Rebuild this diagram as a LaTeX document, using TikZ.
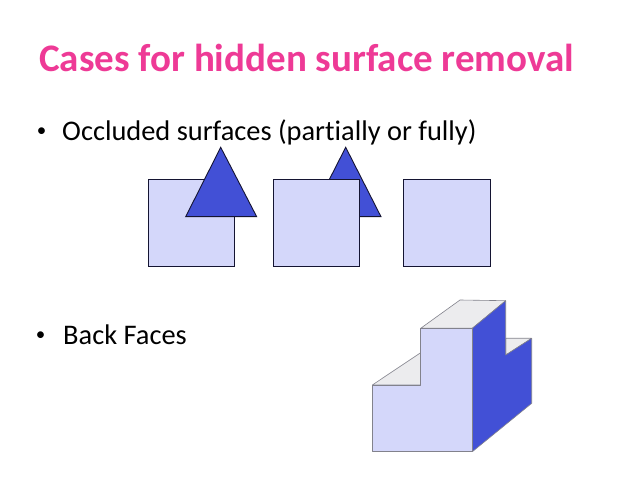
\documentclass[tikz,border=0pt]{standalone}
\usepackage{fontspec}
\setmainfont{Carlito}[Ligatures=NoCommon]
\definecolor{titlepink}{RGB}{238,58,150}
\definecolor{lightface}{RGB}{212,215,250}
\definecolor{darkface}{RGB}{66,80,214}
\definecolor{topface}{RGB}{236,236,238}
\definecolor{edgegray}{RGB}{130,130,140}
\definecolor{shapeedge}{RGB}{20,20,50}
\begin{document}
\begin{tikzpicture}[x=1pt,y=-1pt,
  sq/.style={fill=lightface,draw=shapeedge,line width=0.9pt},
  tri/.style={fill=darkface,draw=shapeedge,line width=0.9pt},
  cube/.style={draw=edgegray,line width=0.6pt,line join=round},
  txt/.style={inner sep=0pt,anchor=base west},
  bul/.style={inner sep=0pt,anchor=center,font=\fontsize{19}{22}\selectfont}]
\useasboundingbox (0,0) rectangle (638,478);
\fill[white] (0,0) rectangle (638,478);
% title
\node[txt,text=titlepink,font=\fontsize{39}{44}\selectfont\bfseries] (title) at (39,72) {Cases for hidden surface removal};
% bullets
\node[bul] (b1) at (41.5,132) {\textbullet};
\node[txt,font=\fontsize{28.4}{34}\selectfont] (t1) at (62,141) {Occluded surfaces (partially or fully)};
\node[bul] (b2) at (40.5,336) {\textbullet};
\node[txt,font=\fontsize{28.4}{34}\selectfont] (t2) at (63,345) {Back Faces};
% case 1: triangle in front of square
\path[sq] (148.3,179.3) rectangle (234.3,266);
\path[tri] (220.7,147.3) -- (256.7,216.7) -- (185.7,216.7) -- cycle;
% case 2: triangle behind square
\path[tri] (345.7,147.3) -- (381,216.7) -- (310.4,216.7) -- cycle;
\path[sq] (273.3,179.3) rectangle (359.3,266);
% case 3: fully hidden
\path[sq] (403.3,179.3) rectangle (490,266);
% back faces: stepped block
\path[cube,fill=topface] (372.3,385) -- (420.7,385) -- (420.7,352.7) -- cycle;
\path[cube,fill=topface] (420.7,328.3) -- (460,300) -- (505.7,300.7) -- (472.3,328.3) -- cycle;
\path[cube,fill=topface] (505.7,338.3) -- (531.7,338.3) -- (505.7,355) -- cycle;
\path[cube,fill=darkface] (472.3,328.3) -- (505.7,300.7) -- (505.7,355) -- (531.7,338.3) -- (531.7,403.3) -- (472.3,451.7) -- cycle;
\path[cube,fill=lightface] (372.3,385) -- (420.7,385) -- (420.7,328.3) -- (472.3,328.3) -- (472.3,451.7) -- (372.3,451.7) -- cycle;
\end{tikzpicture}
\end{document}
